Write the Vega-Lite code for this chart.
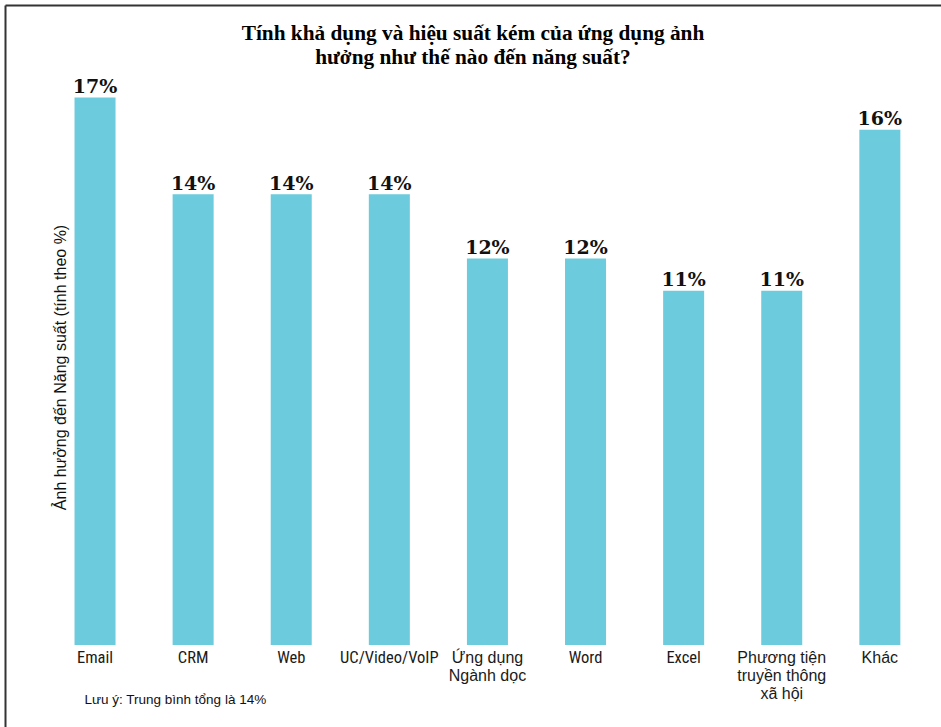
{
  "$schema": "https://vega.github.io/schema/vega-lite/v6.json",
  "width": 936,
  "height": 722,
  "autosize": {"type": "none"},
  "padding": {"left": 5, "top": 5, "right": 0, "bottom": 0},
  "background": "white",
  "config": {"view": {"stroke": null}},
  "title": {
    "text": ["Tính khả dụng và hiệu suất kém của ứng dụng ảnh", "hưởng như thế nào đến năng suất?"],
    "font": "Liberation Serif",
    "fontSize": 21.3,
    "fontWeight": "bold",
    "color": "#000000",
    "lineHeight": 23.5,
    "anchor": "middle",
    "frame": "group",
    "baseline": "top",
    "offset": -41,
    "dy": 22
  },
  "data": {
    "values": [
      {"app": "Email", "share": 0.17},
      {"app": "CRM", "share": 0.14},
      {"app": "Web", "share": 0.14},
      {"app": "UC/Video/VoIP", "share": 0.14},
      {"app": "Ứng dụng Ngành dọc", "share": 0.12},
      {"app": "Word", "share": 0.12},
      {"app": "Excel", "share": 0.11},
      {"app": "Phương tiện truyền thông xã hội", "share": 0.11},
      {"app": "Khác", "share": 0.16}
    ]
  },
  "encoding": {
    "y": {
      "field": "share",
      "type": "quantitative",
      "scale": {"domain": [-0.02547, 0.19876], "nice": false, "zero": false},
      "axis": {
        "title": "Ảnh hưởng đến Năng suất (tính theo %)",
        "domain": true,
        "domainColor": "#333333",
        "domainWidth": 2,
        "ticks": false,
        "labels": false,
        "grid": false,
        "titleX": 55,
        "titleY": 362,
        "titleAngle": 270,
        "titleAlign": "center",
        "titleBaseline": "middle",
        "titleFont": "Liberation Sans",
        "titleFontSize": 16,
        "titleFontWeight": "normal",
        "titleColor": "#111111"
      }
    }
  },
  "layer": [
    {
      "mark": {"type": "bar", "color": "#6ccbdc"},
      "encoding": {
        "x": {
          "field": "app",
          "type": "nominal",
          "sort": null,
          "scale": {"paddingInner": 0.582, "paddingOuter": 0.5616, "align": 0.631},
          "axis": {
            "orient": "bottom",
            "offset": -82,
            "domain": false,
            "ticks": false,
            "tickSize": 0,
            "grid": false,
            "labelPadding": 4,
            "labelAngle": 0,
            "labelLimit": 0,
            "labelColor": "#1a1a1a",
            "labelLineHeight": 18,
            "labelFont": {
              "condition": {"test": "indexof(['Ứng dụng Ngành dọc', 'Phương tiện truyền thông xã hội', 'Khác'], datum.value) >= 0", "value": "Liberation Sans"},
              "value": "Roboto Condensed, Liberation Sans Narrow, DejaVu Sans Condensed, Liberation Sans"
            },
            "labelFontSize": {
              "condition": {"test": "indexof(['Ứng dụng Ngành dọc', 'Phương tiện truyền thông xã hội', 'Khác'], datum.value) >= 0", "value": 16},
              "value": 16.5
            },
            "labelExpr": "datum.value == 'Ứng dụng Ngành dọc' ? ['Ứng dụng', 'Ngành dọc'] : datum.value == 'Phương tiện truyền thông xã hội' ? ['Phương tiện', 'truyền thông', 'xã hội'] : datum.label",
            "title": "Lưu ý: Trung bình tổng là 14%",
            "titleX": 79,
            "titleY": 58,
            "titleAlign": "left",
            "titleAnchor": "start",
            "titleBaseline": "alphabetic",
            "titleFont": "Liberation Sans",
            "titleFontSize": 13.5,
            "titleFontWeight": "normal",
            "titleColor": "#111111"
          }
        },
        "y2": {"datum": 0}
      }
    },
    {
      "mark": {"type": "text", "font": "DejaVu Serif", "fontWeight": "bold", "fontSize": 19, "baseline": "alphabetic", "dy": -4.5, "color": "#111111"},
      "encoding": {
        "x": {
          "field": "app",
          "type": "nominal",
          "sort": null,
          "axis": {
            "orient": "top",
            "domain": true,
            "domainColor": "#333333",
            "domainWidth": 2,
            "ticks": false,
            "labels": false,
            "grid": false,
            "title": null
          }
        },
        "text": {"field": "share", "type": "quantitative", "format": ".0%"}
      }
    }
  ],
  "resolve": {"axis": {"x": "independent"}}
}
